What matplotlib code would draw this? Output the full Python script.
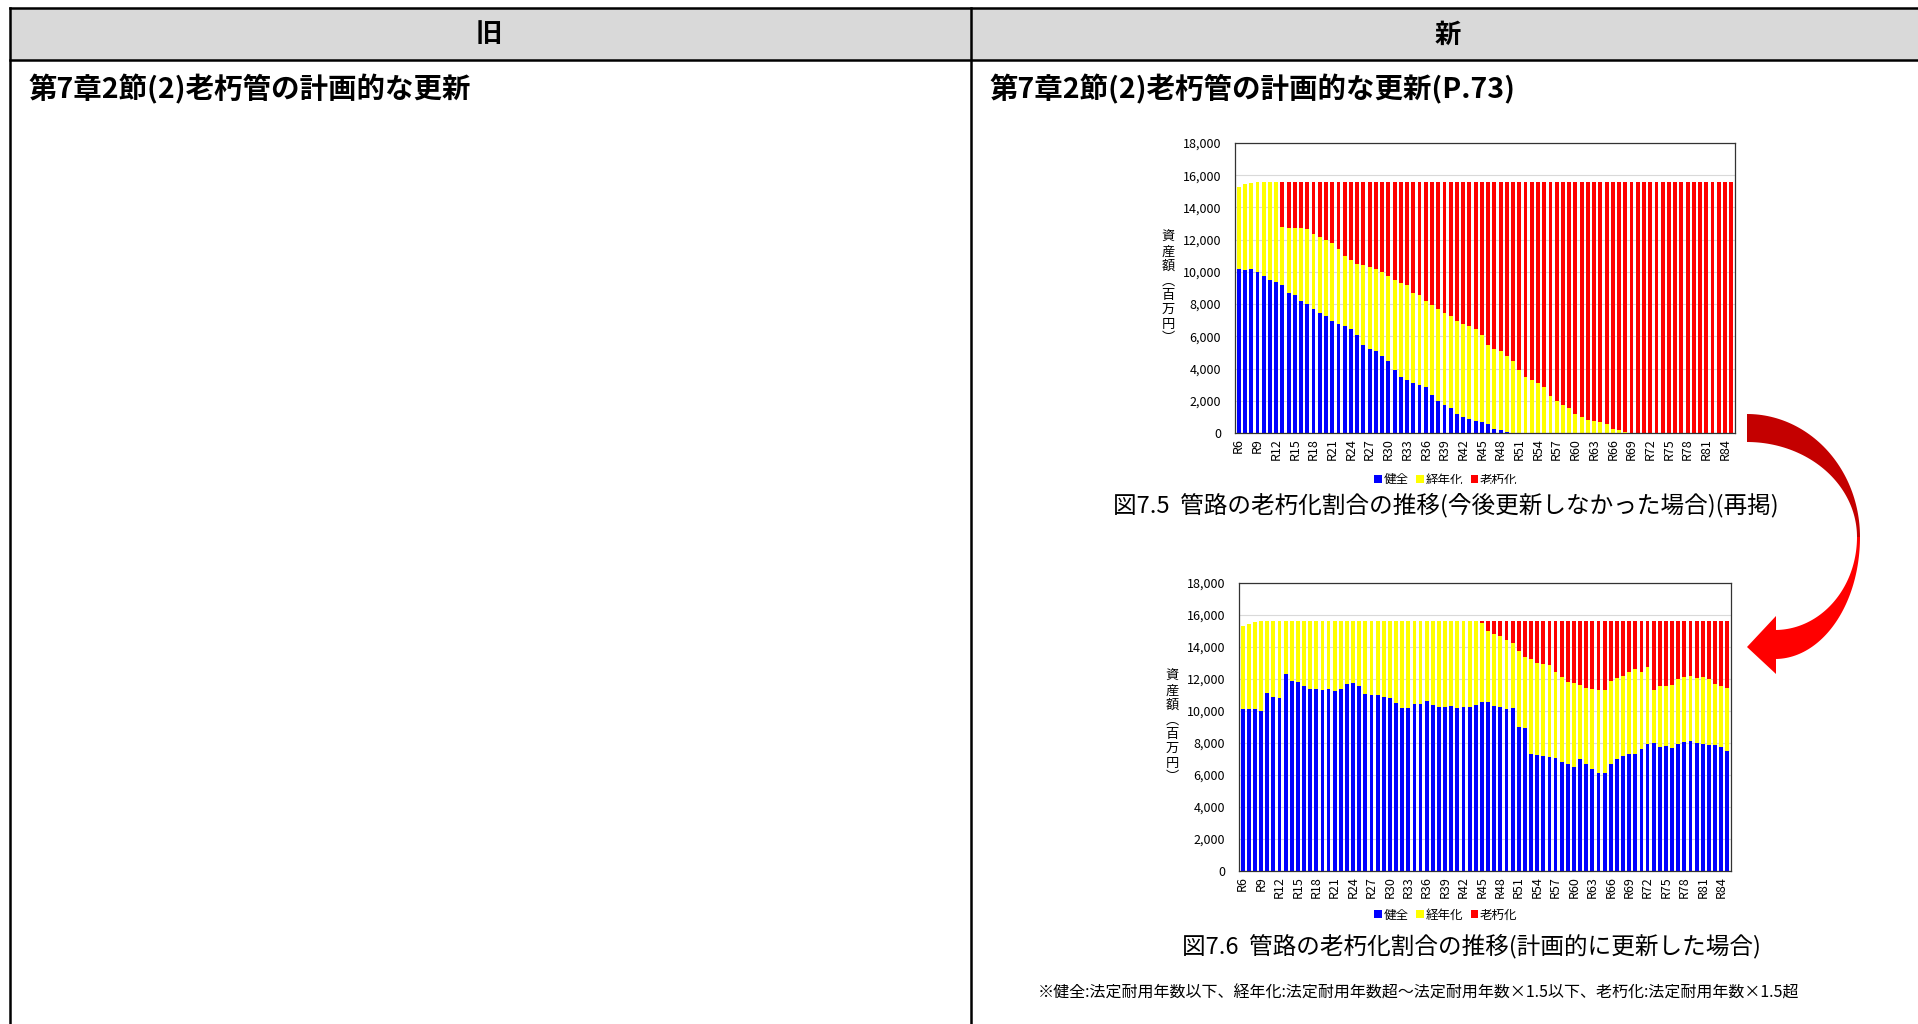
import matplotlib
matplotlib.use("Agg")
import matplotlib.pyplot as plt
import matplotlib.ticker as ticker
import numpy as np
from matplotlib.patches import Patch, Polygon, Rectangle

plt.rcParams["font.family"] = ["Noto Sans CJK JP", "DejaVu Sans"]

W, H = 1918, 1024

# fiscal years R6 .. R85
years = [f"R{y}" for y in range(6, 86)]
series_names = ["健全", "経年化", "老朽化"]
series_colors = ["#0000ff", "#ffff00", "#ff0000"]

# Fig 7.5: no renewal from now on (million yen)
healthy_no_renewal = [
    10170, 10130, 10170, 10000, 9750, 9500, 9360, 9200, 8680, 8560,
    8220, 7980, 7690, 7460, 7250, 6980, 6760, 6630, 6470, 6080,
    5460, 5210, 5080, 4770, 4480, 3930, 3470, 3310, 3080, 2980,
    2870, 2360, 2000, 1740, 1570, 1180, 970, 870, 760, 660,
    560, 270, 170, 60, 20, 0, 0, 0, 0, 0,
    0, 0, 0, 0, 0, 0, 0, 0, 0, 0,
    0, 0, 0, 0, 0, 0, 0, 0, 0, 0,
    0, 0, 0, 0, 0, 0, 0, 0, 0, 0,
]
aging_no_renewal = [
    5120, 5310, 5370, 5600, 5850, 6100, 6240, 3590, 4070, 4150,
    4490, 4670, 4690, 4710, 4720, 4800, 4690, 4340, 4260, 4440,
    4960, 5100, 5130, 5230, 5270, 5580, 5870, 5870, 5600, 5580,
    5350, 5580, 5690, 5700, 5680, 5800, 5790, 5760, 5690, 5420,
    4900, 4940, 4910, 4710, 4460, 3930, 3470, 3310, 3080, 2870,
    2310, 2000, 1740, 1570, 1180, 970, 830, 720, 660, 580,
    270, 170, 80, 20, 0, 0, 0, 0, 0, 0,
    0, 0, 0, 0, 0, 0, 0, 0, 0, 0,
]
old_no_renewal = [
    0, 0, 0, 0, 0, 0, 0, 2810, 2850, 2890,
    2890, 2950, 3220, 3430, 3630, 3820, 4150, 4630, 4870, 5080,
    5180, 5290, 5390, 5600, 5850, 6090, 6260, 6420, 6920, 7040,
    7380, 7660, 7910, 8160, 8350, 8620, 8840, 8970, 9150, 9520,
    10140, 10390, 10520, 10830, 11120, 11670, 12130, 12290, 12520, 12730,
    13290, 13600, 13860, 14030, 14420, 14630, 14770, 14880, 14940, 15020,
    15330, 15430, 15520, 15580, 15600, 15600, 15600, 15600, 15600, 15600,
    15600, 15600, 15600, 15600, 15600, 15600, 15600, 15600, 15600, 15600,
]

# Fig 7.6: planned renewal (million yen)
healthy_planned = [
    10120, 10120, 10140, 10000, 11130, 10880, 10790, 12320, 11860, 11820,
    11550, 11380, 11380, 11300, 11360, 11250, 11380, 11690, 11740, 11570,
    11090, 11000, 10980, 10900, 10830, 10500, 10210, 10210, 10440, 10440,
    10620, 10350, 10250, 10250, 10310, 10210, 10270, 10250, 10370, 10560,
    10540, 10310, 10250, 10120, 10180, 8990, 8950, 7310, 7250, 7170,
    7100, 7080, 6830, 6660, 6480, 6980, 6680, 6350, 6100, 6100,
    6660, 7000, 7170, 7310, 7310, 7630, 7960, 7980, 7770, 7840,
    7670, 7940, 8050, 8110, 7980, 7940, 7880, 7880, 7730, 7480,
]
aging_planned = [
    5170, 5320, 5400, 5600, 4470, 4720, 4810, 3280, 3740, 3780,
    4050, 4220, 4220, 4300, 4240, 4350, 4220, 3910, 3860, 4030,
    4510, 4600, 4620, 4700, 4770, 5100, 5390, 5390, 5160, 5160,
    4980, 5250, 5350, 5350, 5290, 5390, 5330, 5350, 5230, 4970,
    4490, 4510, 4420, 4300, 4070, 4780, 4420, 5910, 5760, 5760,
    5750, 5330, 5300, 5180, 5300, 4650, 4760, 5030, 5220, 5220,
    5220, 5070, 5030, 5140, 5330, 4780, 4820, 3340, 3780, 3750,
    3980, 4070, 4060, 4070, 4070, 4170, 4150, 3810, 3820, 3980,
]
old_planned = [
    0, 0, 0, 0, 0, 0, 0, 0, 0, 0,
    0, 0, 0, 0, 0, 0, 0, 0, 0, 0,
    0, 0, 0, 0, 0, 0, 0, 0, 0, 0,
    0, 0, 0, 0, 0, 0, 0, 0, 0, 70,
    570, 780, 930, 1180, 1350, 1830, 2230, 2380, 2590, 2670,
    2750, 3190, 3470, 3760, 3820, 3970, 4160, 4220, 4280, 4280,
    3720, 3530, 3400, 3150, 2960, 3190, 2820, 4280, 4050, 4010,
    3950, 3590, 3490, 3420, 3550, 3490, 3570, 3910, 4050, 4140,
]


def px_rect(left, top, right, bottom):
    return [left / W, 1 - bottom / H, (right - left) / W, (bottom - top) / H]


def draw_chart(fig, rect, healthy, aging, old):
    ax = fig.add_axes(rect)
    x = np.arange(len(years))
    healthy = np.asarray(healthy)
    aging = np.asarray(aging)
    old = np.asarray(old)
    width = 0.62
    ax.bar(x, healthy, width, color=series_colors[0], zorder=2)
    ax.bar(x, aging, width, bottom=healthy, color=series_colors[1], zorder=2)
    ax.bar(x, old, width, bottom=healthy + aging, color=series_colors[2], zorder=2)

    ax.set_xlim(-0.6, len(years) - 0.4)
    ax.set_ylim(0, 18000)
    ax.set_yticks(np.arange(0, 18001, 2000))
    ax.yaxis.set_major_formatter(ticker.FuncFormatter(lambda v, _: f"{int(v):,}"))
    ax.set_xticks(x[::3])
    ax.set_xticklabels(years[::3], rotation=90)
    ax.tick_params(axis="y", length=0, pad=10, labelsize=9)
    ax.tick_params(axis="x", length=0, pad=4, labelsize=9)
    ax.grid(axis="y", color="#d9d9d9", linewidth=0.8, zorder=0)
    ax.set_axisbelow(True)
    for spine in ax.spines.values():
        spine.set_color("#333333")
        spine.set_linewidth(0.9)
    return ax


def arc(cx, cy, rx, ry, t0, t1, n=60):
    t = np.radians(np.linspace(t0, t1, n))
    return np.column_stack([cx + rx * np.cos(t), cy - ry * np.sin(t)])


fig = plt.figure(figsize=(W / 100, H / 100), dpi=100)

# page layer in pixel coordinates
bg = fig.add_axes([0, 0, 1, 1])
bg.axis("off")

bg.add_patch(Rectangle((10, 8), W - 10, 52, facecolor="#d9d9d9", edgecolor="none"))
line_kw = dict(color="black", linewidth=1.8, solid_capstyle="projecting")
bg.plot([10, W], [8, 8], **line_kw)
bg.plot([10, W], [60, 60], **line_kw)
bg.plot([10, 10], [8, H], **line_kw)
bg.plot([971, 971], [8, H], **line_kw)

bg.text(489, 35, "旧", ha="center", va="center", fontsize=19, fontweight="bold")
bg.text(1448, 35, "新", ha="center", va="center", fontsize=19, fontweight="bold")
bg.text(28, 89, "第7章2節(2)老朽管の計画的な更新", ha="left", va="center",
        fontsize=20.5, fontweight="bold")
bg.text(989, 89, "第7章2節(2)老朽管の計画的な更新(P.73)", ha="left", va="center",
        fontsize=20.5, fontweight="bold")

bg.text(1446, 505, "図7.5  管路の老朽化割合の推移(今後更新しなかった場合)(再掲)",
        ha="center", va="center", fontsize=17)
bg.text(1471, 946, "図7.6  管路の老朽化割合の推移(計画的に更新した場合)",
        ha="center", va="center", fontsize=17)
bg.text(1419, 993,
        "※健全:法定耐用年数以下、経年化:法定耐用年数超～法定耐用年数×1.5以下、"
        "老朽化:法定耐用年数×1.5超",
        ha="center", va="center", fontsize=11.5)

ylabel = "資\n産\n額\n︵\n百\n万\n円\n︶"
bg.text(1168, 288, ylabel, ha="center", va="center", fontsize=9.5, linespacing=1.15)
bg.text(1172, 727, ylabel, ha="center", va="center", fontsize=9.5, linespacing=1.15)

# twisted ribbon arrow: dark upper half, bright lower half with head
upper = np.vstack([arc(1747, 537, 113, 123, 90, 0), arc(1747, 537, 110, 95, 0, 90)])
lower = np.vstack([arc(1775, 537, 85, -122, 0, 90), arc(1775, 537, 82, -93, 90, 0)])
head = [(1747, 647), (1776, 616), (1776, 674)]
bg.add_patch(Polygon(upper, closed=True, facecolor="#c40000", edgecolor="none"))
bg.add_patch(Polygon(lower, closed=True, facecolor="#ff0000", edgecolor="none"))
bg.add_patch(Polygon(head, closed=True, facecolor="#ff0000", edgecolor="none"))

bg.set_xlim(0, W)
bg.set_ylim(H, 0)

draw_chart(fig, px_rect(1235, 143, 1735, 433), healthy_no_renewal, aging_no_renewal, old_no_renewal)
draw_chart(fig, px_rect(1239, 583, 1731, 871), healthy_planned, aging_planned, old_planned)

handles = [Patch(facecolor=c, edgecolor="none") for c in series_colors]
legend_kw = dict(loc="center", ncol=3, frameon=False, fontsize=9, handlelength=0.6,
                 handleheight=0.6, handletextpad=0.15, columnspacing=0.6, borderpad=0)
fig.legend(handles, series_names, bbox_to_anchor=(1446 / W, 1 - 480 / H), **legend_kw)
fig.legend(handles, series_names, bbox_to_anchor=(1446 / W, 1 - 915 / H), **legend_kw)
# the upper legend is cut off by the caption below it
fig.add_artist(Rectangle((1350 / W, 1 - 493 / H), 200 / W, 9 / H, transform=fig.transFigure,
                         facecolor="white", edgecolor="none", zorder=10))

fig.savefig("out.png", dpi=100)
